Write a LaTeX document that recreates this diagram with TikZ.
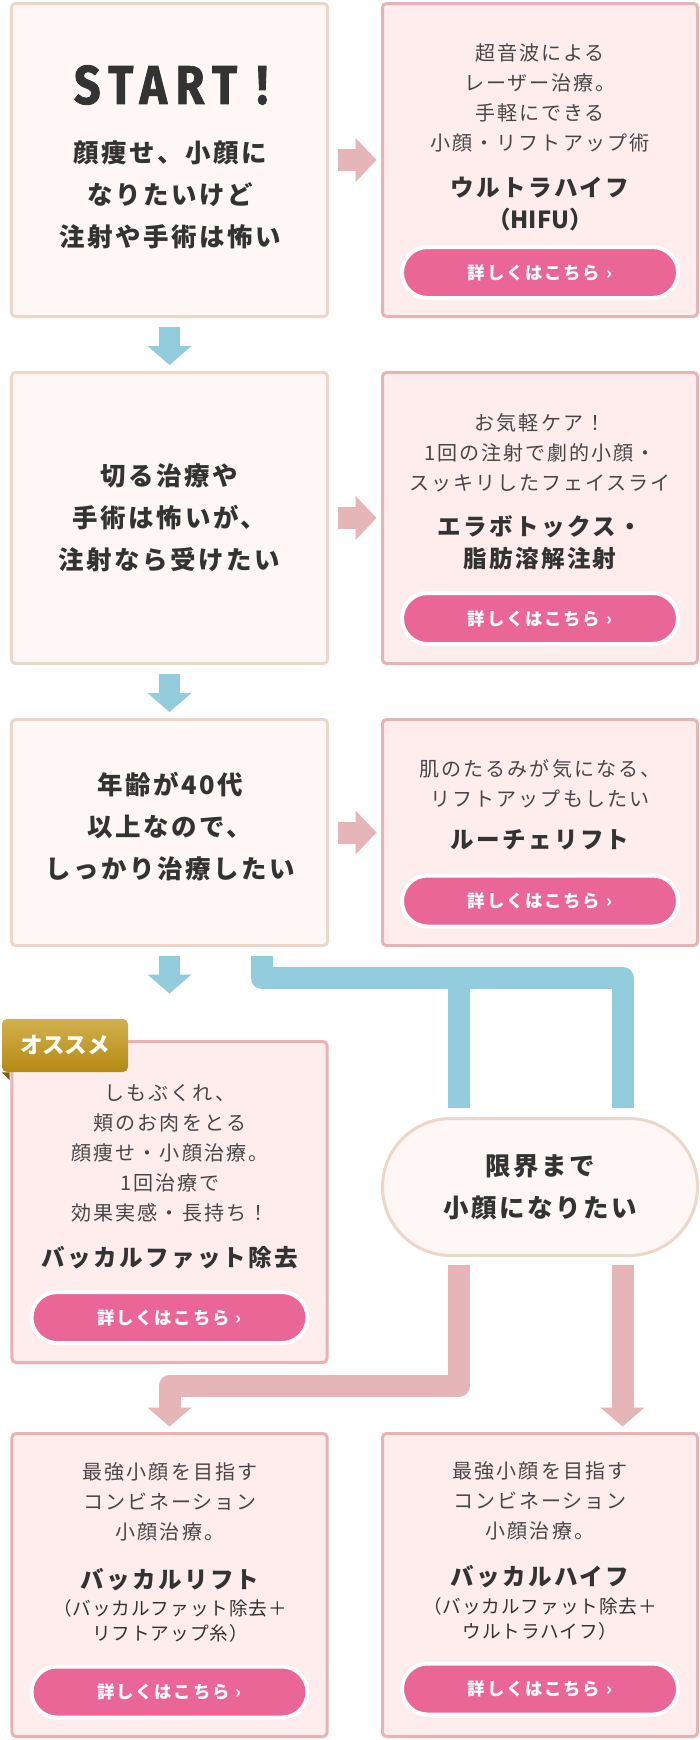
\documentclass[tikz,border=0pt]{standalone}
\usepackage{fontspec}
\usepackage{tikz}
\usetikzlibrary{arrows.meta}
\setmainfont{Noto Sans CJK JP}
\newfontfamily\jpsp{Noto Sans CJK JP}[LetterSpace=10]
\newfontfamily\jpnarrow{Noto Sans CJK JP}[LetterSpace=5]
\newfontfamily\startface{Fira Sans}[FakeStretch=0.85,LetterSpace=16,FakeBold=1.5]
\definecolor{ink}{HTML}{333333}
\definecolor{softink}{HTML}{474747}
\definecolor{qline}{HTML}{EDD6CA}
\definecolor{qfill}{HTML}{FFF7F5}
\definecolor{rline}{HTML}{E6B4B6}
\definecolor{rfill}{HTML}{FFEDEE}
\definecolor{btnpink}{HTML}{EA6696}
\definecolor{flowblue}{HTML}{93CCDD}
\definecolor{flowpink}{HTML}{E6B5B7}
\definecolor{goldtop}{HTML}{D3B04E}
\definecolor{goldbot}{HTML}{B48A13}
\definecolor{golddark}{HTML}{7E5F0E}

\begin{document}
\begin{tikzpicture}[
    qbox/.style={draw=qline,fill=qfill,line width=0.06cm,rounded corners=0.08cm,minimum width=6.32cm,inner sep=0pt},
    rbox/.style={qbox,draw=rline,fill=rfill,minimum width=6.3cm},
    ovalbox/.style={qbox,minimum width=6.3cm,minimum height=2.74cm,rounded corners=1.37cm},
    qtxt/.style={font=\jpsp\bfseries\fontsize{14.5}{23.9}\selectfont,text=ink,align=center},
    note/.style={font=\jpsp\fontsize{11.4}{17.1}\selectfont,text=softink,align=center},
    pick/.style={font=\jpsp\bfseries\fontsize{13.4}{18.2}\selectfont,text=ink,align=center},
    combo/.style={font=\jpnarrow\fontsize{10.6}{14.2}\selectfont,text=ink,align=center},
    btn/.style={draw=white,line width=0.08cm,fill=btnpink,rounded corners=0.51cm,minimum width=5.52cm,minimum height=1.02cm,inner sep=0pt,text=white,font=\jpsp\bfseries\fontsize{9.9}{12}\selectfont},
    tagbox/.style={top color=goldtop,bottom color=goldbot,rounded corners=0.1cm,minimum width=2.52cm,minimum height=1.06cm,inner sep=0pt,text=white,font=\bfseries\fontsize{12.8}{14}\selectfont},
    bdown/.style={draw=flowblue,line width=0.42cm,-{Triangle[width=0.88cm,length=0.38cm,line width=0pt]},shorten <=0.17cm,shorten >=0.12cm},
    pright/.style={draw=flowpink,line width=0.44cm,-{Triangle[width=0.88cm,length=0.42cm,line width=0pt]},shorten <=0.17cm,shorten >=0.09cm},
    bpipe/.style={draw=flowblue,line width=0.44cm,line join=round},
    ppipe/.style={draw=flowpink,line width=0.44cm,line join=round,-{Triangle[width=0.88cm,length=0.38cm,line width=0pt]}}
  ]
  \path[use as bounding box,fill=white] (0,0) rectangle (14,-34.8);

  % the opening question and its answer
  \node[qbox,minimum height=6.26cm] (start) at (3.39,-3.2) {};
  \node[font=\startface\bfseries\fontsize{31}{32}\selectfont,text=ink] (go) at (3.42,-1.7) {START !};
  \node[qtxt] (startq) at (3.4,-3.9) {顔痩せ、小顔に\\なりたいけど\\注射や手術は怖い};

  \node[rbox,minimum height=6.26cm] (hifu) at (10.8,-3.2) {};
  \node[note] (hifun) at (10.8,-1.96) {超音波による\\レーザー治療。\\手軽にできる\\小顔・リフトアップ術};
  \node[pick] (hifup) at (10.8,-4.07) {ウルトラハイフ\\{\rmfamily\bfseries （HIFU）}};
  \node[btn] (hifub) at (10.8,-5.45) {詳しくはこちら\hspace{0.35em}›};
  \draw[pright] (start) -- (hifu);

  % second question
  \node[qbox,minimum height=5.82cm,qtxt] (inject) at (3.39,-10.36) {切る治療や\\手術は怖いが、\\注射なら受けたい};
  \node[rbox,minimum height=5.82cm] (botox) at (10.8,-10.36) {};
  \node[note] (botoxn) at (10.8,-9.06) {お気軽ケア！\\1回の注射で劇的小顔・\\スッキリしたフェイスライ};
  \node[pick] (botoxp) at (10.8,-10.85) {エラボトックス・\\脂肪溶解注射};
  \node[btn] (botoxb) at (10.8,-12.37) {詳しくはこちら\hspace{0.35em}›};
  \draw[bdown] (start) -- (inject);
  \draw[pright] (inject) -- (botox);

  % third question
  \node[qbox,minimum height=4.52cm] (age) at (3.39,-16.65) {};
  \node[qtxt] (ageq) at (3.4,-16.53) {年齢が40代\\以上なので、\\しっかり治療したい};
  \node[rbox,minimum height=4.52cm] (luce) at (10.8,-16.65) {};
  \node[note] (lucen) at (10.8,-15.68) {肌のたるみが気になる、\\リフトアップもしたい};
  \node[pick] (lucep) at (10.8,-16.8) {ルーチェリフト};
  \node[btn] (luceb) at (10.8,-18.02) {詳しくはこちら\hspace{0.35em}›};
  \draw[bdown] (inject) -- (age);
  \draw[pright] (age) -- (luce);

  % recommended branch
  \node[rbox,minimum height=6.42cm] (buccal) at (3.39,-24.04) {};
  \node[note] (buccaln) at (3.4,-23.06) {しもぶくれ、\\頬のお肉をとる\\顔痩せ・小顔治療。\\1回治療で\\効果実感・長持ち！};
  \node[pick] (buccalp) at (3.4,-25.16) {バッカルファット除去};
  \node[btn] (buccalb) at (3.39,-26.35) {詳しくはこちら\hspace{0.35em}›};
  \draw[bdown,shorten >=0.93cm] (age) -- (buccal);
  \node[tagbox] (tag) at (1.3,-20.91) {オススメ};
  \fill[golddark] (tag.south west) -- ++(0.16,0) -- ++(0,-0.16) -- cycle;

  % going all the way
  \node[ovalbox,qtxt] (goal) at (10.8,-23.74) {限界まで\\小顔になりたい};
  \draw[bpipe,shorten <=0.17cm,shorten >=0.19cm] ([xshift=1.85cm]age.south) -- ++(0,-0.62) -| ([xshift=1.65cm]goal.north);
  \coordinate (fork) at (9.18,-19.53);
  \draw[bpipe,shorten >=0.19cm] (fork) -- (fork |- goal.north);

  \node[rbox,minimum height=6.06cm] (blift) at (3.39,-31.7) {};
  \node[note] (bliftn) at (3.4,-30.04) {最強小顔を目指す\\コンビネーション\\小顔治療。};
  \node[pick] (bliftp) at (3.4,-31.6) {バッカルリフト};
  \node[combo] (bliftc) at (3.4,-32.41) {（バッカルファット除去＋\\リフトアップ糸）};
  \node[btn] (bliftb) at (3.39,-33.84) {詳しくはこちら\hspace{0.35em}›};

  \node[rbox,minimum height=6.06cm] (bhifu) at (10.8,-31.7) {};
  \node[note] (bhifun) at (10.8,-30.02) {最強小顔を目指す\\コンビネーション\\小顔治療。};
  \node[pick] (bhifup) at (10.8,-31.54) {バッカルハイフ};
  \node[combo] (bhifuc) at (10.8,-32.37) {（バッカルファット除去＋\\ウルトラハイフ）};
  \node[btn] (bhifub) at (10.8,-33.78) {詳しくはこちら\hspace{0.35em}›};

  \draw[ppipe,shorten <=0.15cm,shorten >=0.11cm] ([xshift=-1.62cm]goal.south) -- ++(0,-2.57) -| (blift.north);
  \draw[ppipe,shorten <=0.15cm,shorten >=0.11cm] ([xshift=1.65cm]goal.south) -- ([xshift=1.65cm]bhifu.north);
\end{tikzpicture}
\end{document}
